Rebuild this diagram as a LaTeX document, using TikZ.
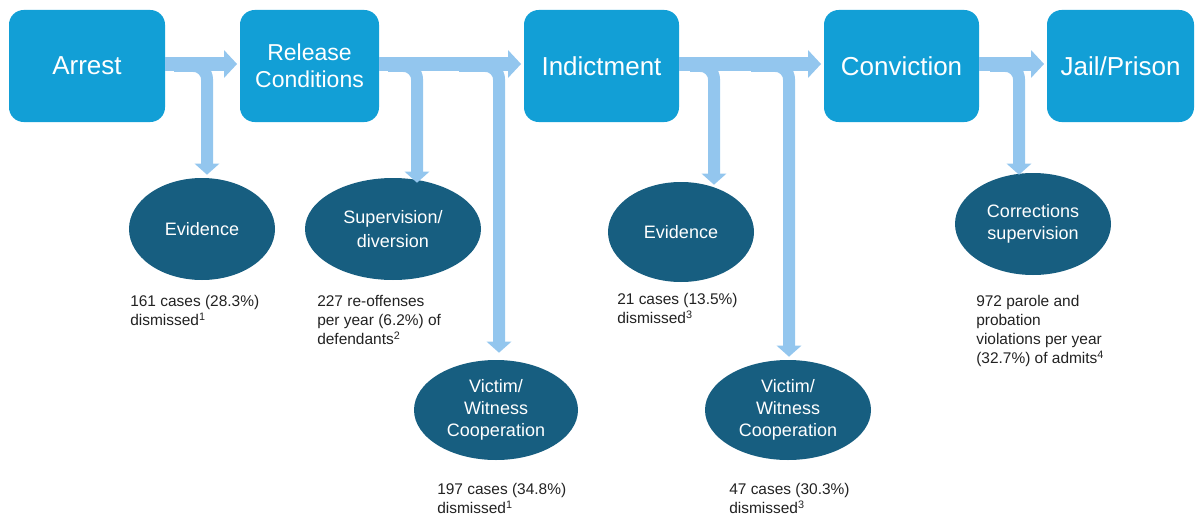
\documentclass[tikz,border=0pt]{standalone}
\usepackage{fontspec}
\setmainfont{Liberation Sans}
\usetikzlibrary{arrows.meta,shapes.geometric,calc}
\definecolor{boxblue}{HTML}{129FD6}
\definecolor{ellblue}{HTML}{175E80}
\definecolor{arrblue}{HTML}{93C6EE}
\definecolor{txt}{HTML}{222222}
\begin{document}
\begin{tikzpicture}[x=0.75pt,y=-0.75pt,
  stage/.style={rectangle, rounded corners=11pt, fill=boxblue, text=white, align=center,
    inner sep=0pt, minimum height=84pt, font=\fontsize{19.5}{23}\selectfont},
  oval/.style={ellipse, fill=ellblue, text=white, align=center, inner sep=0pt,
    font=\fontsize{13.5}{16.5}\selectfont},
  note/.style={anchor=north west, align=left, inner sep=0pt, text=txt,
    font=\fontsize{11.6}{14.25}\selectfont},
  mainarrow/.style={draw=arrblue, line width=10.5pt, shorten >=2pt,
    -{Triangle[width=20.25pt,length=9.75pt]}},
  brarrow/.style={draw=arrblue, line width=9pt, rounded corners=10pt,
    -{Triangle[width=18pt,length=8.25pt]}}
]
\useasboundingbox (0,0) rectangle (1195,517);

% stages
\node[stage, minimum width=117pt] (arrest) at (87,66) {Arrest};
\node[stage, minimum width=104.25pt, font=\fontsize{17.25}{20.25}\selectfont] (release) at (309.5,66) {Release\\Conditions};
\node[stage, minimum width=116.25pt] (indict) at (601.5,66) {Indictment};
\node[stage, minimum width=116.25pt] (conv) at (901.5,66) {Conviction};
\node[stage, minimum width=110.25pt] (jail) at (1120.5,66) {Jail/Prison};

% outcome ovals
\node[oval, minimum width=109.5pt, minimum height=76.5pt] (ev1) at (202,229) {Evidence};
\node[oval, minimum width=132pt, minimum height=76.5pt, font=\fontsize{13.5}{18}\selectfont] (sup) at (393,229) {Supervision/\\diversion};
\node[oval, minimum width=123pt, minimum height=75pt] (vic1) at (496,410) {Victim/\\Witness\\Cooperation};
\node[oval, minimum width=109.5pt, minimum height=75pt] (ev2) at (681,232) {Evidence};
\node[oval, minimum width=124.5pt, minimum height=75pt] (vic2) at (788,410) {Victim/\\Witness\\Cooperation};
\node[oval, minimum width=117pt, minimum height=76.5pt] (cor) at (1033,224) {Corrections\\supervision};

% notes
\node[note] (n1) at (130,295.5) {161 cases (28.3\%)\\dismissed\textsuperscript{1}};
\node[note] (n2) at (317,295.5) {227 re-offenses\\per year (6.2\%) of\\defendants\textsuperscript{2}};
\node[note] (n3) at (437,483.5) {197 cases (34.8\%)\\dismissed\textsuperscript{1}};
\node[note] (n4) at (617,293.5) {21 cases (13.5\%)\\dismissed\textsuperscript{3}};
\node[note] (n5) at (729,483.5) {47 cases (30.3\%)\\dismissed\textsuperscript{3}};
\node[note] (n6) at (976,295.5) {972 parole and\\probation\\violations per year\\(32.7\%) of admits\textsuperscript{4}};

% branch origins and columns
\coordinate (s1) at (174,66);  \coordinate (k1) at (207,0);
\coordinate (s2) at (388,66);  \coordinate (k2) at (417,0);
\coordinate (s3) at (459,66);  \coordinate (k3) at (499,0);
\coordinate (s4) at (690,66);  \coordinate (k4) at (714,0);
\coordinate (s5) at (751,66);  \coordinate (k5) at (789,0);
\coordinate (s6) at (990,66);  \coordinate (k6) at (1019,0);

\draw[brarrow] (s1) -| ($(ev1.north -| k1)+(0,-3)$);
\draw[brarrow] (s2) -| ($(sup.north -| k2)+(0,5)$);
\draw[brarrow] (s3) -| ($(vic1.north -| k3)+(0,-7)$);
\draw[brarrow] (s4) -| ($(ev2.north -| k4)+(0,3)$);
\draw[brarrow] (s5) -| ($(vic2.north -| k5)+(0,-3)$);
\draw[brarrow] (s6) -| ($(cor.north -| k6)+(0,2)$);

% main flow
\draw[mainarrow] ([yshift=1.5pt]arrest.east) -- ([yshift=1.5pt]release.west);
\draw[mainarrow] ([yshift=1.5pt]release.east) -- ([yshift=1.5pt]indict.west);
\draw[mainarrow] ([yshift=1.5pt]indict.east) -- ([yshift=1.5pt]conv.west);
\draw[mainarrow] ([yshift=1.5pt]conv.east) -- ([yshift=1.5pt]jail.west);
\end{tikzpicture}
\end{document}
